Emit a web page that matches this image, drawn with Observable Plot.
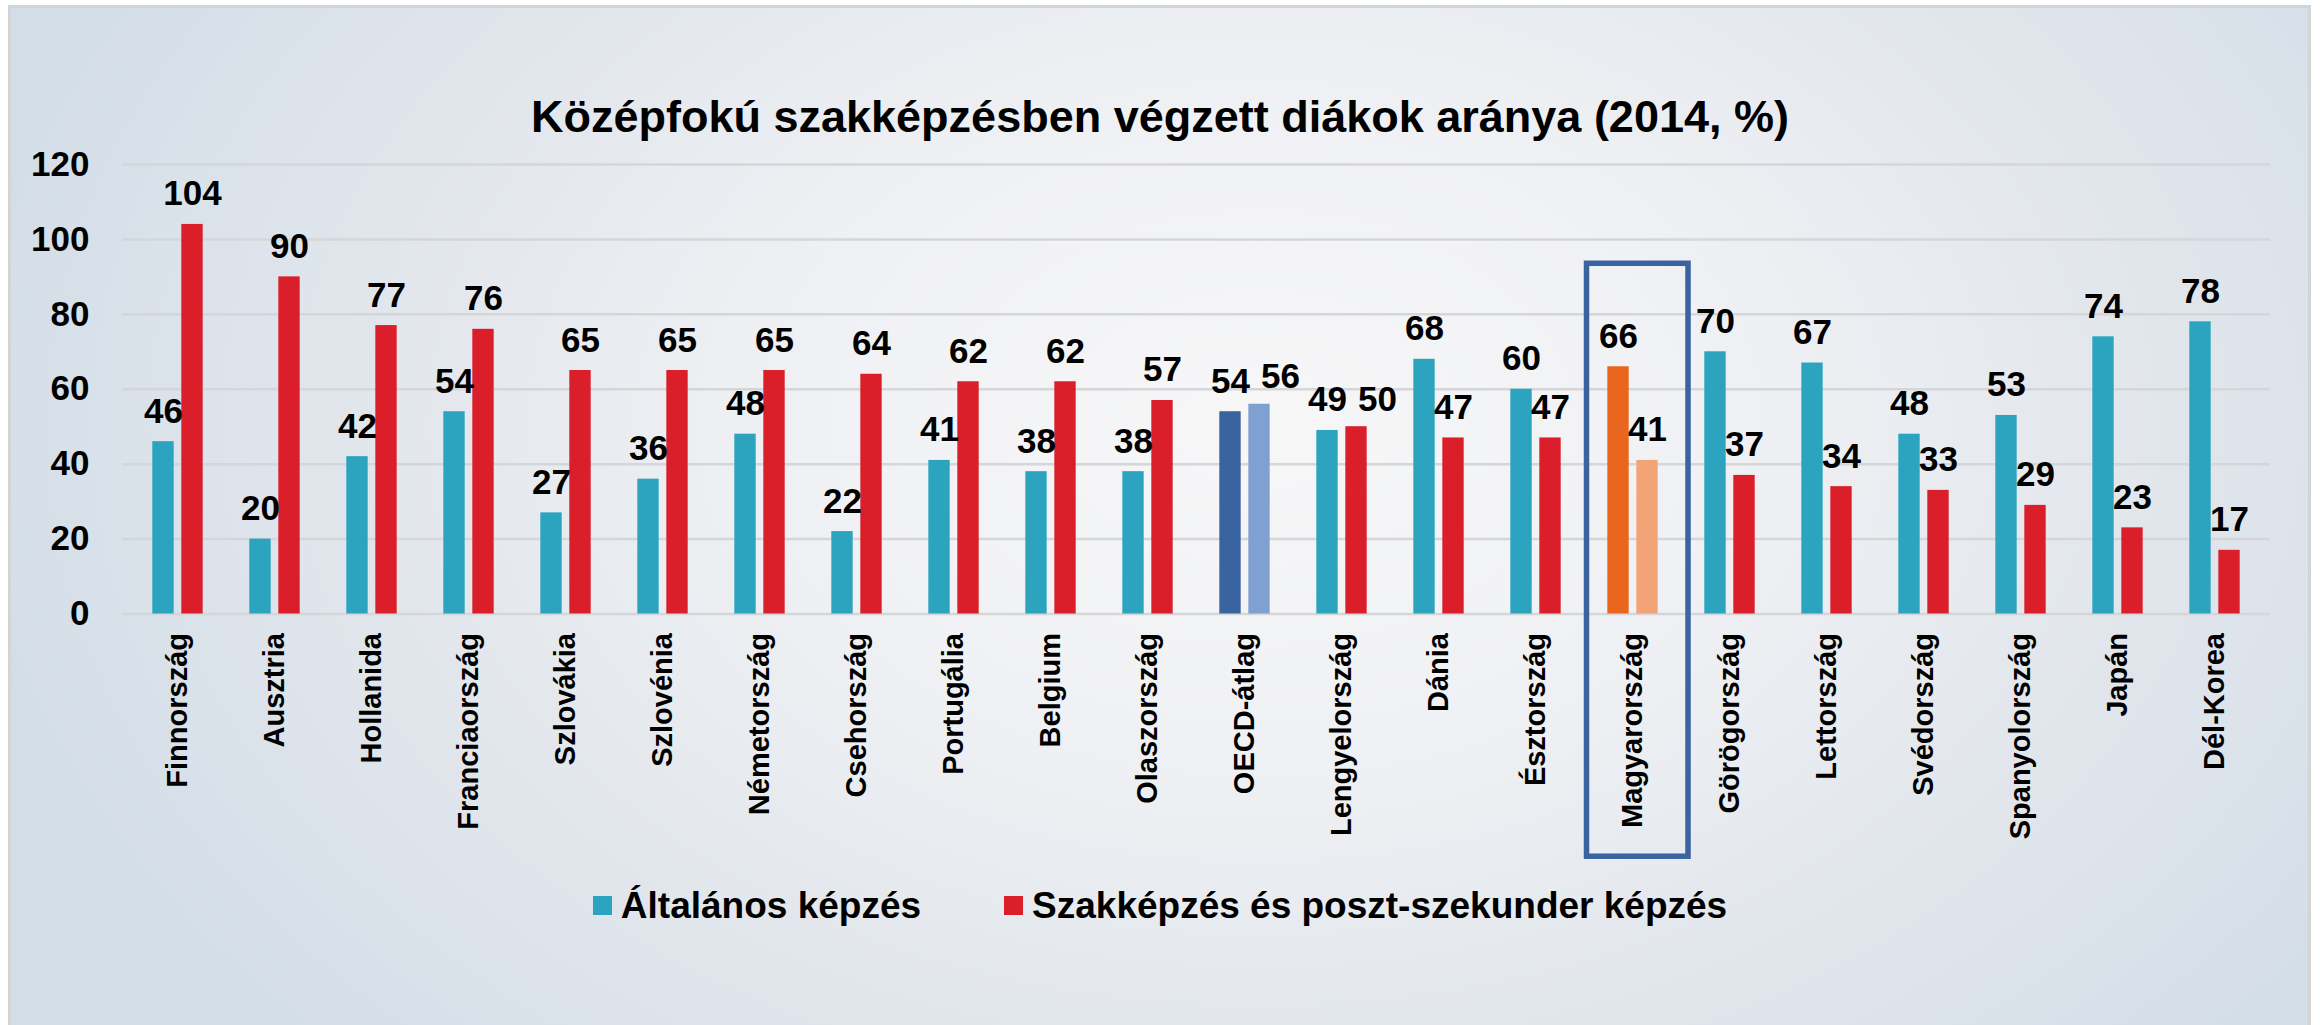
<!DOCTYPE html>
<html>
<head>
<meta charset="utf-8">
<script src="https://cdn.jsdelivr.net/npm/d3@7"></script>
<script src="https://cdn.jsdelivr.net/npm/@observablehq/plot@0.6"></script>
<style>
  html, body { margin: 0; padding: 0; background: #ffffff; }
  body { width: 2320px; height: 1025px; overflow: hidden; position: relative;
         font-family: "Liberation Sans", Arial, sans-serif; }
  #frame { position: absolute; left: 8px; top: 5px; width: 2303px; height: 1030px;
           border: 3px solid #D3D4D6; box-sizing: border-box;
           background: radial-gradient(ellipse 1300px 900px at 1250px 420px, #F7F7F8 0%, #F0F1F4 35%, #E1E6EC 70%, #D4DEE8 100%); }
  #page { position: absolute; left: 0; top: 0; width: 2320px; }
  #title { margin-top: 95px; height: 45px; line-height: 44px; font-size: 45px; font-weight: bold;
           text-align: center; color: #000; }
  #chart { height: 730px; }
  #legend { margin-top: 17px; display: flex; justify-content: center; align-items: center;
            font-size: 37px; line-height: 37px; font-weight: bold; color: #000; gap: 83px; }
  .item { display: flex; align-items: center; gap: 9px; }
  .sw { width: 19px; height: 19px; display: inline-block; }
</style>
</head>
<body>
<div id="frame"></div>
<div id="page">
  <div id="title">Középfokú szakképzésben végzett diákok aránya (2014, %)</div>
  <div id="chart"></div>
  <div id="legend"></div>
</div>
<script>
const countries = ["Finnország","Ausztria","Hollanida","Franciaország","Szlovákia","Szlovénia","Németország","Csehország","Portugália","Belgium","Olaszország","OECD-átlag","Lengyelország","Dánia","Észtország","Magyarország","Görögország","Lettország","Svédország","Spanyolország","Japán","Dél-Korea"];
const seriesNames = ["Általános képzés","Szakképzés és poszt-szekunder képzés"];
const altalanos = [46,20,42,54,27,36,48,22,41,38,38,54,49,68,60,66,70,67,48,53,74,78];
const szakkepzes = [104,90,77,76,65,65,65,64,62,62,57,56,50,47,47,41,37,34,33,29,23,17];
const yTicks = [0,20,40,60,80,100,120];
const baseColors = ["#2CA3BF","#DB1F2A"];
const oecdColors = ["#3A64A0","#7FA1D1"];
const huColors = ["#EA661E","#F2A477"];
const highlightCountry = "Magyarország";
const oecdCountry = "OECD-átlag";

const colorFor = (country, s) =>
  country === oecdCountry ? oecdColors[s] : country === highlightCountry ? huColors[s] : baseColors[s];

const rows = [];
countries.forEach((c, i) => {
  const clash = Math.abs(altalanos[i] - szakkepzes[i]) < 6; // labels would collide
  rows.push({country: c, s: 0, value: altalanos[i], color: colorFor(c, 0), clash});
  rows.push({country: c, s: 1, value: szakkepzes[i], color: colorFor(c, 1), clash});
});
const rows0 = rows.filter(d => d.s === 0);
const rows1 = rows.filter(d => d.s === 1 && !d.clash);
const rows1c = rows.filter(d => d.s === 1 && d.clash);

const W = 2320, mL = 122, mR = 50;
const bw = (W - mL - mR) / countries.length;
const barW = 22, off = 14.5;
const inset = (bw - barW) / 2;
const font = "'Liberation Sans', Arial, sans-serif";
const labelStyle = {fontSize: 35, fontWeight: "bold", fill: "#000", lineAnchor: "bottom"};

const chart = Plot.plot({
  width: W,
  height: 730,
  marginLeft: mL,
  marginRight: mR,
  marginTop: 24,
  marginBottom: 256.5,
  style: {background: "transparent", fontFamily: font, overflow: "visible", color: "#000"},
  x: {domain: countries, padding: 0, label: null},
  y: {domain: [0, 120], label: null},
  color: {type: "identity"},
  marks: [
    Plot.gridY(yTicks, {stroke: "#D5D6D8", strokeOpacity: 1, strokeWidth: 2.5}),
    Plot.barY(rows0, {x: "country", y: "value", fill: "color", dx: -off, insetLeft: inset, insetRight: inset}),
    Plot.barY(rows.filter(d => d.s === 1), {x: "country", y: "value", fill: "color", dx: off, insetLeft: inset, insetRight: inset}),
    Plot.text(rows0, {x: "country", y: "value", text: d => String(d.value), dx: -off, dy: -19, ...labelStyle}),
    Plot.text(rows1, {x: "country", y: "value", text: d => String(d.value), dx: off, dy: -19, ...labelStyle}),
    Plot.text(rows1c, {x: "country", y: "value", text: d => String(d.value), dx: off + 21, dy: -16, ...labelStyle}),
    Plot.barY([{country: highlightCountry}], {x: "country", y1: -64.8, y2: 93.5, fill: "none",
      stroke: "#3A64A0", strokeWidth: 5.5, insetLeft: 2.5, insetRight: -7}),
    Plot.axisY(yTicks, {tickSize: 0, tickPadding: 33, fontSize: 35, fontWeight: "bold", label: null, fill: "#000"}),
    Plot.axisX({tickSize: 0, tickPadding: 19, tickRotate: -90, fontSize: 29, fontWeight: "bold", label: null, fill: "#000"})
  ]
});
document.getElementById("chart").appendChild(chart);

const legend = d3.select("#legend");
seriesNames.forEach((name, i) => {
  const it = legend.append("div").attr("class", "item");
  it.append("span").attr("class", "sw").style("background", baseColors[i]);
  it.append("span").text(name);
});
</script>
</body>
</html>
